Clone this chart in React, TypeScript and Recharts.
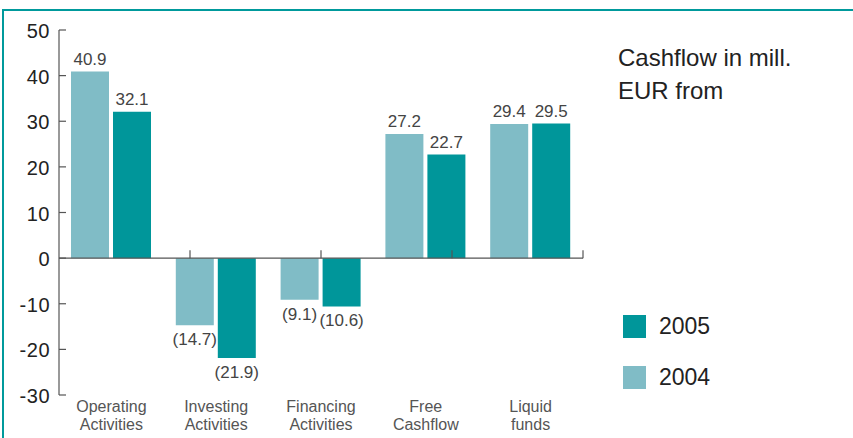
import React from 'react';
import {
  BarChart,
  Bar,
  XAxis,
  YAxis,
  LabelList,
  ReferenceLine,
} from 'recharts';

// Cashflow categories (line break = second label line)
const categories = [
  'Operating\nActivities',
  'Investing\nActivities',
  'Financing\nActivities',
  'Free\nCashflow',
  'Liquid\nfunds',
];
const values2004 = [40.9, -14.7, -9.1, 27.2, 29.4];
const values2005 = [32.1, -21.9, -10.6, 22.7, 29.5];
const yTicks = [-30, -20, -10, 0, 10, 20, 30, 40, 50];
const boundaries = [1, 2, 3, 4, 5];

const seriesNames = ['2004', '2005'];
const COLOR_2004 = '#80bcc6';
const COLOR_2005 = '#00969a';
const FRAME = '#009a9c';
const AXIS = '#555';
const FONT = '"Liberation Sans", Arial, sans-serif';

const data = categories.map((name, i) => ({
  name,
  v2004: values2004[i],
  v2005: values2005[i],
}));

// negative values shown in brackets, below the bar
const ValueLabel = (props: any) => {
  const { x, y, width, height, value } = props;
  const n = Number(value);
  const top = Math.min(y, y + height);
  const bottom = Math.max(y, y + height);
  const text = n < 0 ? `(${Math.abs(n).toFixed(1)})` : n.toFixed(1);
  return (
    <text
      x={x + width / 2}
      y={n < 0 ? bottom + 20 : top - 7}
      textAnchor="middle"
      fill="#444"
      fontSize={17}
      fontFamily={FONT}
    >
      {text}
    </text>
  );
};

// y ticks: short mark pointing inward, label to the left
const YTick = (props: any) => {
  const { x, y, payload } = props;
  return (
    <g>
      <line x1={x} x2={x + 7} y1={y} y2={y} stroke={AXIS} strokeWidth={1.2} />
      <text
        x={x - 9}
        y={y}
        dy={8}
        textAnchor="end"
        fill="#222"
        fontSize={20}
        letterSpacing={0.5}
        fontFamily={FONT}
      >
        {payload.value}
      </text>
    </g>
  );
};

const XTick = (props: any) => {
  const { x, y, payload } = props;
  const lines = String(payload.value).split('\n');
  return (
    <text x={x} y={y} textAnchor="middle" fill="#555" fontSize={16} fontFamily={FONT}>
      {lines.map((l, i) => (
        <tspan key={i} x={x} dy={i === 0 ? 17 : 18}>
          {l}
        </tspan>
      ))}
    </text>
  );
};

export default function App() {
  return (
    <div
      style={{
        position: 'fixed',
        left: 0,
        top: 0,
        width: 853,
        height: 438,
        overflow: 'hidden',
        background: '#fff',
        fontFamily: FONT,
      }}
    >
      {/* teal frame, clipped on right and bottom */}
      <div
        style={{
          position: 'absolute',
          left: 2,
          top: 9,
          width: 1000,
          height: 1000,
          border: `2px solid ${FRAME}`,
          boxSizing: 'border-box',
        }}
      />
      <div style={{ position: 'absolute', left: 0, top: 0 }}>
        <BarChart
          width={853}
          height={438}
          data={data}
          margin={{ top: 30, right: 270, bottom: 0, left: 0 }}
          barGap={4}
          barSize={38}
        >
          <XAxis
            xAxisId="cat"
            dataKey="name"
            axisLine={false}
            tickLine={false}
            tickSize={0}
            tickMargin={0}
            height={43}
            interval={0}
            tick={<XTick />}
          />
          <XAxis xAxisId="num" type="number" domain={[0, 5]} allowDataOverflow hide />
          <YAxis
            domain={[-30, 50]}
            ticks={yTicks}
            width={59}
            interval={0}
            axisLine={{ stroke: AXIS, strokeWidth: 1.2 }}
            tickLine={false}
            tickSize={0}
            tickMargin={0}
            tick={<YTick />}
          />
          <ReferenceLine xAxisId="cat" y={0} stroke={AXIS} strokeWidth={1.2} />
          {boundaries.map((b) => (
            <ReferenceLine
              key={b}
              xAxisId="num"
              segment={[
                { x: b, y: 0 },
                { x: b, y: 1.7 },
              ]}
              stroke={AXIS}
              strokeWidth={1.2}
            />
          ))}
          <Bar xAxisId="cat" dataKey="v2004" name={seriesNames[0]} fill={COLOR_2004} isAnimationActive={false}>
            <LabelList dataKey="v2004" content={<ValueLabel />} />
          </Bar>
          <Bar xAxisId="cat" dataKey="v2005" name={seriesNames[1]} fill={COLOR_2005} isAnimationActive={false}>
            <LabelList dataKey="v2005" content={<ValueLabel />} />
          </Bar>
        </BarChart>
      </div>

      {/* title */}
      <div
        style={{
          position: 'absolute',
          left: 618,
          top: 41,
          fontSize: 24,
          lineHeight: '33px',
          color: '#222',
        }}
      >
        Cashflow in mill.
        <br />
        EUR from
      </div>

      {/* legend */}
      {[
        { name: seriesNames[1], color: COLOR_2005, top: 315 },
        { name: seriesNames[0], color: COLOR_2004, top: 366 },
      ].map((it) => (
        <div
          key={it.name}
          style={{
            position: 'absolute',
            left: 623,
            top: it.top,
            display: 'flex',
            alignItems: 'center',
            height: 23,
          }}
        >
          <div style={{ width: 23, height: 23, background: it.color }} />
          <span style={{ marginLeft: 13, fontSize: 23, color: '#222' }}>{it.name}</span>
        </div>
      ))}
    </div>
  );
}
